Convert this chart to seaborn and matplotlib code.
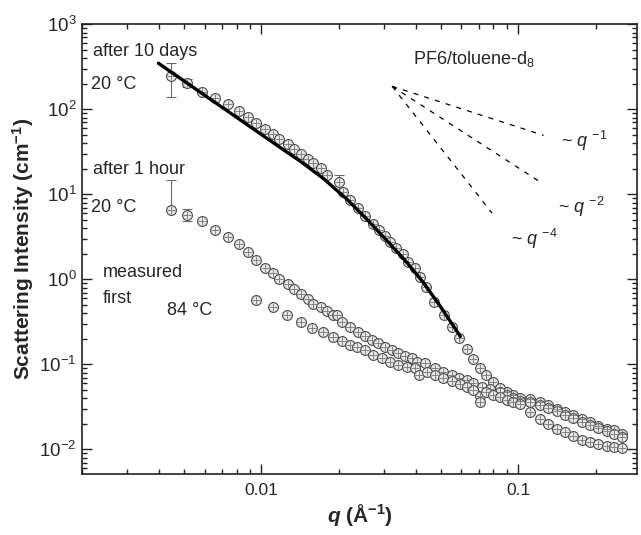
import pandas as pd
import seaborn as sns
import matplotlib.pyplot as plt
from matplotlib.ticker import NullFormatter

# values (q in 1/A, intensity in 1/cm)
q_10d = [0.00443, 0.00515, 0.00589, 0.00662, 0.00738, 0.00814, 0.00883, 0.00956, 0.01028, 0.01104,
         0.01175, 0.01263, 0.01333, 0.01419, 0.01511, 0.01592, 0.01698, 0.01807, 0.01995, 0.02085,
         0.02219, 0.02384, 0.02540, 0.02727, 0.02875, 0.03035, 0.03177, 0.03350, 0.03570, 0.03733,
         0.03975, 0.04157, 0.04385, 0.04709, 0.05150, 0.05535, 0.05891, 0.06331, 0.06683, 0.07112,
         0.07502, 0.07992, 0.08505, 0.09051, 0.09572, 0.1019, 0.1114, 0.1218, 0.1309, 0.1419,
         0.1524, 0.1637, 0.1775, 0.1906, 0.2047, 0.2219, 0.2364, 0.2539]
i_10d = [244, 202, 158, 135, 114.5, 94.7, 80.5, 68.5, 58.2, 50.8,
         44.4, 38.7, 33.8, 29.6, 25.8, 23.2, 20.2, 16.7, 13.8, 10.6,
         8.5, 6.84, 5.51, 4.44, 3.77, 3.21, 2.72, 2.32, 1.97, 1.58,
         1.35, 1.06, 0.805, 0.536, 0.377, 0.272, 0.202, 0.150, 0.115, 0.0897,
         0.0743, 0.0614, 0.0522, 0.0469, 0.0432, 0.0398, 0.0275, 0.0230, 0.0197, 0.0175,
         0.0160, 0.0142, 0.0130, 0.0122, 0.0115, 0.0110, 0.0107, 0.0105]

q_1h = [0.00443, 0.00515, 0.00589, 0.00662, 0.00738, 0.00814, 0.00883, 0.00956, 0.01028, 0.01104,
        0.01175, 0.01263, 0.01333, 0.01419, 0.01511, 0.01592, 0.01698, 0.01807, 0.01905,
        0.01975, 0.02065, 0.02219, 0.02384, 0.02540, 0.02704, 0.02852, 0.03035, 0.03236, 0.03412,
        0.03631, 0.03869, 0.04045, 0.04348, 0.04753, 0.05106, 0.05535, 0.05891, 0.06331, 0.06683,
        0.07112, 0.07244, 0.07783, 0.08505, 0.09051, 0.09572, 0.1019,
        0.1114, 0.1218, 0.1309, 0.1419, 0.1524, 0.1637, 0.1775, 0.1906, 0.2047, 0.2219, 0.2364, 0.2539]
i_1h = [6.6, 5.77, 4.85, 3.77, 3.15, 2.58, 2.10, 1.67, 1.37, 1.19,
        1.02, 0.889, 0.777, 0.679, 0.593, 0.518, 0.472, 0.424, 0.385,
        0.377, 0.312, 0.272, 0.238, 0.213, 0.191, 0.177, 0.158, 0.146, 0.135,
        0.124, 0.118, 0.106, 0.103, 0.0897, 0.0805, 0.0743, 0.0685, 0.0649, 0.0597,
        0.0421, 0.0536, 0.0508, 0.0469, 0.0432, 0.0398, 0.0367,
        0.0394, 0.0360, 0.0329, 0.0301, 0.0275, 0.0251, 0.0230, 0.0210, 0.0191, 0.0175, 0.0167, 0.0153]

q_84 = [0.00948, 0.01113, 0.01262, 0.01430, 0.01579, 0.01743, 0.01905, 0.02065, 0.02219, 0.02362,
        0.02540, 0.02727, 0.02956, 0.03177, 0.03412, 0.03699, 0.03975, 0.04119, 0.04426, 0.04753,
        0.05106, 0.05535, 0.05945, 0.06331, 0.06683, 0.07112, 0.07502, 0.07992, 0.08505, 0.09051,
        0.09572, 0.1019,
        0.1114, 0.1218, 0.1309, 0.1419, 0.1524, 0.1637, 0.1775, 0.1906, 0.2047, 0.2219, 0.2364, 0.2539]
i_84 = [0.577, 0.469, 0.377, 0.312, 0.265, 0.238, 0.208, 0.187, 0.168, 0.158,
        0.146, 0.128, 0.118, 0.106, 0.0973, 0.0922, 0.0897, 0.0743, 0.0805, 0.0743,
        0.0685, 0.0631, 0.0582, 0.0536, 0.0494, 0.0358, 0.0469, 0.0432, 0.0409, 0.0377,
        0.0357, 0.0338,
        0.0360, 0.0330, 0.0305, 0.0280, 0.0255, 0.0232, 0.0212, 0.0194, 0.0177, 0.0163, 0.0151, 0.0140]

# model fit through the 10-day data
q_fit = [0.00397, 0.0100, 0.01185, 0.01419, 0.01748, 0.02156, 0.02576, 0.03081, 0.03688,
         0.04283, 0.04970, 0.05603, 0.05945]
i_fit = [348, 50.5, 35.4, 24.4, 15.22, 8.71, 5.07, 2.85, 1.572,
         0.907, 0.481, 0.280, 0.2135]

# dashed power-law guides
q_guide_1 = [0.03226, 0.1254]
i_guide_1 = [186.6, 49.4]
q_guide_2 = [0.03226, 0.1218]
i_guide_2 = [186.6, 13.96]
q_guide_4 = [0.03226, 0.0790]
i_guide_4 = [186.6, 6.03]

# error bars shown on a few points
err_q = [0.00443, 0.00515, 0.01995, 0.00443, 0.00515]
err_i = [244, 202, 13.8, 6.6, 5.77]
err_lo = [106, 18, 2.5, 0.0, 0.9]
err_hi = [104, 27, 3.2, 8.0, 0.9]

sns.set_style('ticks')
plt.rcParams['font.family'] = ['Liberation Sans', 'DejaVu Sans']
plt.rcParams['mathtext.fontset'] = 'custom'
plt.rcParams['mathtext.rm'] = 'Liberation Sans'
plt.rcParams['mathtext.it'] = 'Liberation Sans:italic'
plt.rcParams['mathtext.bf'] = 'Liberation Sans:bold'
plt.rcParams['mathtext.bfit'] = 'Liberation Sans:bold:italic'
plt.rcParams['axes.unicode_minus'] = False

df = pd.concat([
    pd.DataFrame({'q': q_10d, 'I': i_10d, 'sample': 'after 10 days'}),
    pd.DataFrame({'q': q_1h, 'I': i_1h, 'sample': 'after 1 hour'}),
    pd.DataFrame({'q': q_84, 'I': i_84, 'sample': '84 C'}),
])

fig = plt.figure(figsize=(6.41, 5.35), dpi=100)
ax = fig.add_axes([0.1279, 0.1135, 0.8659, 0.8411])
ax.set(xscale='log', yscale='log')

ax.errorbar(err_q, err_i, yerr=[err_lo, err_hi], fmt='none', ecolor='#6a6a6a',
            elinewidth=0.8, capsize=3.5, capthick=0.8, zorder=2)

sns.scatterplot(data=df, x='q', y='I', marker='o', s=50, color='#e6e6e6',
                edgecolor='#4a4a4a', linewidth=0.8, ax=ax, zorder=3, legend=False)
sns.scatterplot(data=df, x='q', y='I', marker='+', s=40, color='#777777',
                linewidth=0.6, ax=ax, zorder=4, legend=False)

sns.lineplot(x=q_fit, y=i_fit, color='black', linewidth=2.4, ax=ax, zorder=5)

for qg, ig in [(q_guide_1, i_guide_1), (q_guide_2, i_guide_2), (q_guide_4, i_guide_4)]:
    ax.plot(qg, ig, color='black', linestyle=(0, (4, 5)), linewidth=0.9)

ax.set_xlim(0.002, 0.29)
ax.set_ylim(0.0051, 1000)
ax.set_xticks([0.01, 0.1], labels=['0.01', '0.1'])
ax.xaxis.set_minor_formatter(NullFormatter())
ax.tick_params(which='both', direction='in', top=True, right=True, color='#222222', width=1)
ax.tick_params(which='major', length=7.5)
ax.tick_params(which='minor', length=3.8)
ax.tick_params(axis='x', labelsize=12.5, pad=6)
ax.tick_params(axis='y', labelsize=13.5, pad=4)
for sp in ax.spines.values():
    sp.set_linewidth(1.2)
    sp.set_color('#222222')

ax.set_xlabel(r'$\mathbfit{q}$ (Å$^{\mathbf{-1}}$)', fontsize=15, fontweight='bold', labelpad=3)
ax.set_ylabel(r'Scattering Intensity (cm$^{\mathbf{-1}}$)', fontsize=15, fontweight='bold', labelpad=2)

fs = 13
tr = ax.transAxes
ax.text(0.0193, 0.929, 'after 10 days', fontsize=fs, transform=tr)
ax.text(0.0157, 0.857, '20 °C', fontsize=fs, transform=tr)
ax.text(0.0193, 0.667, 'after 1 hour', fontsize=fs, transform=tr)
ax.text(0.0157, 0.582, '20 °C', fontsize=fs, transform=tr)
ax.text(0.0373, 0.4375, 'measured', fontsize=fs, transform=tr)
ax.text(0.0373, 0.381, 'first', fontsize=fs, transform=tr)
ax.text(0.153, 0.355, '84 °C', fontsize=fs, transform=tr)
ax.text(0.596, 0.911, r'PF6/toluene-d$_8$', fontsize=fs, transform=tr)
ax.text(0.8625, 0.7275, r'~ $q$ $^{-1}$', fontsize=fs, transform=tr)
ax.text(0.858, 0.580, r'~ $q$ $^{-2}$', fontsize=fs, transform=tr)
ax.text(0.7724, 0.509, r'~ $q$ $^{-4}$', fontsize=fs, transform=tr)

plt.savefig('out.png', dpi=100)
